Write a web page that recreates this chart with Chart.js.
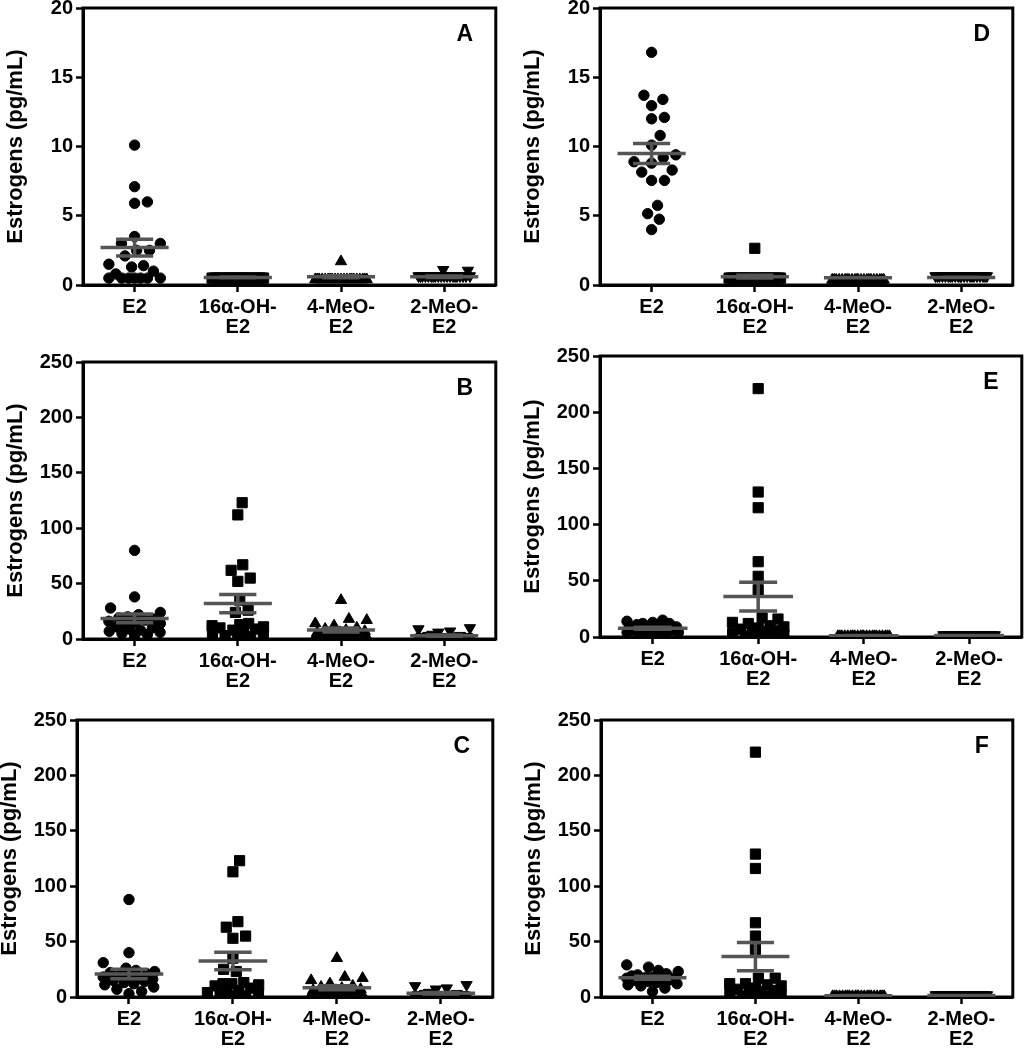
<!DOCTYPE html>
<html>
<head>
<meta charset="utf-8">
<script src="https://cdn.jsdelivr.net/npm/chart.js@4.4.0/dist/chart.umd.min.js"></script>
<style>
  html, body { margin: 0; padding: 0; background: #fff; }
  #wrap { position: relative; width: 1028px; height: 1050px; overflow: hidden; }
  #wrap canvas { position: absolute; }
</style>
</head>
<body>
<div id="wrap"></div>
<script>
// categories and axis text
const categories = ["E2", ["16α-OH-", "E2"], ["4-MeO-", "E2"], ["2-MeO-", "E2"]];
const yTitle = "Estrogens (pg/mL)";

// Panel A (pg/mL)
const aE2 = [10.1, 7.1, 6.0, 5.9, 3.5, 3.0, 3.0, 2.5, 2.5, 2.1, 1.5, 1.4, 1.3, 1.0, 0.8, 0.5, 0.5, 0.5, 0.5, 0.5, 0.5, 0.5];
const aOH = [0.5, 0.5, 0.5, 0.5, 0.5, 0.5, 0.5, 0.5, 0.5, 0.5, 0.5, 0.5, 0.5, 0.5, 0.5, 0.5, 0.5, 0.5, 0.5, 0.5, 0.5, 0.5];
const aMeO4 = [1.7, 0.4, 0.4, 0.4, 0.4, 0.4, 0.4, 0.4, 0.4, 0.4, 0.4, 0.4, 0.4, 0.4, 0.4, 0.4, 0.4, 0.4, 0.4, 0.4, 0.4, 0.4];
const aMeO2 = [1.1, 1.05, 0.65, 0.65, 0.65, 0.65, 0.65, 0.65, 0.65, 0.65, 0.65, 0.65, 0.65, 0.65, 0.65, 0.65, 0.65, 0.65, 0.65, 0.65, 0.65, 0.65];
const aMean = [2.7, 0.55, 0.6, 0.6];
const aSem = [0.6, 0.02, 0.07, 0.05];

// Panel B
const bE2 = [80, 38, 28, 24, 22, 20, 19, 18, 17, 16, 15, 14, 12, 11, 10, 9, 8, 7, 6, 5, 4, 3];
const bOH = [123, 112, 67, 62, 55, 52, 35, 26, 24, 14, 13, 12, 11, 10, 9, 8, 6, 5, 4, 3, 2, 1];
const bMeO4 = [35, 18, 17, 14, 12, 10, 9, 8, 7, 6, 6, 5, 5, 4, 4, 3, 3, 2, 2, 1, 1, 1];
const bMeO2 = [10, 9, 7, 6, 4, 3, 3, 2, 2, 2, 2, 1, 1, 1, 1, 1, 0.5, 0.5, 0.5, 0.5, 0.5, 0.5];
const bMean = [18.6, 32, 8.1, 3];
const bSem = [3.9, 8.2, 1.8, 0.6];

// Panel C
const cE2 = [88, 40, 31, 26, 24, 23, 22, 21, 20, 19, 18, 17, 16, 15, 14, 13, 12, 11, 9, 7, 5, 3];
const cOH = [123, 113, 68, 63, 55, 53, 35, 25, 23, 13, 12, 12, 11, 10, 8, 6, 5, 4, 3, 2, 1, 1];
const cMeO4 = [35, 18, 17, 15, 12, 10, 9, 8, 7, 6, 6, 5, 5, 4, 4, 3, 3, 2, 2, 1, 1, 1];
const cMeO2 = [11, 10, 8, 7, 4, 3, 3, 2, 2, 2, 2, 1, 1, 1, 1, 1, 0.5, 0.5, 0.5, 0.5, 0.5, 0.5];
const cMean = [20.7, 32.5, 8.4, 3.3];
const cSem = [4.3, 8, 1.8, 0.7];

// Panel D
const dE2 = [16.8, 13.7, 13.4, 12.95, 12.1, 12.0, 10.8, 10.1, 9.4, 9.2, 8.9, 8.8, 8.3, 8.15, 7.55, 7.55, 5.75, 5.15, 4.75, 4.0];
const dOH = [2.65, 0.5, 0.5, 0.5, 0.5, 0.5, 0.5, 0.5, 0.5, 0.5, 0.5, 0.5, 0.5, 0.5, 0.5, 0.5, 0.5, 0.5, 0.5, 0.5, 0.5, 0.5];
const dMeO4 = [0.37, 0.37, 0.37, 0.37, 0.37, 0.37, 0.37, 0.37, 0.37, 0.37, 0.37, 0.37, 0.37, 0.37, 0.37, 0.37, 0.37, 0.37, 0.37, 0.37, 0.37, 0.37];
const dMeO2 = [0.65, 0.65, 0.65, 0.65, 0.65, 0.65, 0.65, 0.65, 0.65, 0.65, 0.65, 0.65, 0.65, 0.65, 0.65, 0.65, 0.65, 0.65, 0.65, 0.65, 0.65, 0.65];
const dMean = [9.5, 0.6, 0.53, 0.55];
const dSem = [0.72, 0.1, 0.01, 0.01];

// Panel E
const eE2 = [15, 14, 13, 12, 12, 11, 10, 9, 9, 8, 8, 7, 7, 6, 6, 5, 5, 4, 4, 3, 3, 2];
const eOH = [221, 129, 115, 67, 54, 42, 17, 16, 13, 12, 10, 9, 8, 7, 6, 5, 4, 3, 2, 1, 1, 1];
const eMeO4 = [0.6, 0.6, 0.6, 0.6, 0.6, 0.6, 0.6, 0.6, 0.6, 0.6, 0.6, 0.6, 0.6, 0.6, 0.6, 0.6, 0.6, 0.6, 0.6, 0.6, 0.6, 0.6];
const eMeO2 = [1.8, 1.8, 1.8, 1.8, 1.8, 1.8, 1.8, 1.8, 1.8, 1.8, 1.8, 1.8, 1.8, 1.8, 1.8, 1.8, 1.8, 1.8, 1.8, 1.8, 1.8, 1.8];
const eMean = [7.7, 36, 1.2, 1.3];
const eSem = [0.9, 12.8, 0.05, 0.05];

// Panel F
const fE2 = [29, 27, 24, 23, 21, 20, 19, 18, 18, 17, 17, 16, 16, 15, 15, 14, 13, 12, 11, 10, 8, 5];
const fOH = [221, 129, 116, 67, 55, 43, 17, 17, 12, 12, 11, 10, 8, 7, 6, 5, 4, 3, 2, 1, 1, 1];
const fMeO4 = [0.6, 0.6, 0.6, 0.6, 0.6, 0.6, 0.6, 0.6, 0.6, 0.6, 0.6, 0.6, 0.6, 0.6, 0.6, 0.6, 0.6, 0.6, 0.6, 0.6, 0.6, 0.6];
const fMeO2 = [1.8, 1.8, 1.8, 1.8, 1.8, 1.8, 1.8, 1.8, 1.8, 1.8, 1.8, 1.8, 1.8, 1.8, 1.8, 1.8, 1.8, 1.8, 1.8, 1.8, 1.8, 1.8];
const fMean = [17.4, 36.5, 1.2, 1.3];
const fSem = [1.3, 12.7, 0.05, 0.05];

const panels = [
  { letter: "A", groups: [aE2, aOH, aMeO4, aMeO2], mean: aMean, sem: aSem, yMax: 20, step: 5, box: { l: 83, t: 7, r: 500, b: 285 } },
  { letter: "D", groups: [dE2, dOH, dMeO4, dMeO2], mean: dMean, sem: dSem, yMax: 20, step: 5, box: { l: 600, t: 7, r: 1017, b: 285 } },
  { letter: "B", groups: [bE2, bOH, bMeO4, bMeO2], mean: bMean, sem: bSem, yMax: 250, step: 50, box: { l: 83, t: 361, r: 500, b: 639 } },
  { letter: "E", groups: [eE2, eOH, eMeO4, eMeO2], mean: eMean, sem: eSem, yMax: 250, step: 50, box: { l: 600, t: 355, r: 1026, b: 637 } },
  { letter: "C", groups: [cE2, cOH, cMeO4, cMeO2], mean: cMean, sem: cSem, yMax: 250, step: 50, box: { l: 77, t: 719, r: 497, b: 997 } },
  { letter: "F", groups: [fE2, fOH, fMeO4, fMeO2], mean: fMean, sem: fSem, yMax: 250, step: 50, box: { l: 601, t: 719, r: 1017, b: 997 } },
];

const markers = [
  { style: "circle", radius: 5.2, rotation: 0 },
  { style: "rect", radius: 7.2, rotation: 0 },
  { style: "triangle", radius: 6.5, rotation: 0 },
  { style: "triangle", radius: 6.5, rotation: 180 },
];

const FONT = '"Liberation Sans", Arial, Helvetica, sans-serif';
const Y_AXIS_W = 83;
const X_AXIS_H = 62;
const PAD_TOP = 14;
const PAD_RIGHT = 4;

Chart.defaults.font.family = FONT;
Chart.defaults.color = "#000";

// beeswarm: spread points sideways so they don't overlap, squeeze when crowded
function swarmOffsets(values, pxPerUnit, diam, limit) {
  const order = values.map((v, i) => i).sort((a, b) => values[a] - values[b]);
  const placed = [];
  const out = new Array(values.length).fill(0);
  order.forEach((i) => {
    const y = values[i] * pxPerUnit;
    const near = placed.filter((p) => Math.abs(p.y - y) < diam);
    const cands = [0];
    near.forEach((p) => {
      const dx = Math.sqrt(diam * diam - (p.y - y) ** 2);
      cands.push(p.x + dx, p.x - dx);
    });
    const ok = cands
      .filter((c) => Math.abs(c) <= limit && near.every((p) => (p.x - c) ** 2 + (p.y - y) ** 2 >= diam * diam - 0.5))
      .sort((a, b) => Math.abs(a) - Math.abs(b));
    let x = 0;
    if (ok.length) {
      x = ok[0];
    } else {
      let best = -1;
      for (let c = -limit; c <= limit; c += 1) {
        const d = Math.min(...near.map((p) => Math.hypot(p.x - c, p.y - y)));
        if (d > best + 0.01 || (Math.abs(d - best) <= 0.01 && Math.abs(c) < Math.abs(x))) {
          best = d;
          x = c;
        }
      }
    }
    placed.push({ x, y });
    out[i] = x;
  });
  return out;
}

// mean line, SEM caps and the stem, broken up with gaps
function errorBarData(mean, sem) {
  const pts = [];
  mean.forEach((m, i) => {
    const c = i + 1;
    const s = sem[i];
    pts.push(
      { x: c - 0.33, y: m }, { x: c + 0.33, y: m }, { x: c, y: null },
      { x: c - 0.18, y: m + s }, { x: c + 0.18, y: m + s }, { x: c, y: null },
      { x: c - 0.18, y: m - s }, { x: c + 0.18, y: m - s }, { x: c, y: null },
      { x: c, y: m - s }, { x: c, y: m + s }, { x: c, y: null }
    );
  });
  return pts;
}

const framePlugin = {
  id: "frame",
  beforeDatasetsDraw(chart) {
    const { ctx, chartArea: a } = chart;
    ctx.save();
    ctx.strokeStyle = "#000";
    ctx.lineWidth = 3;
    ctx.strokeRect(a.left, a.top, a.right - a.left, a.bottom - a.top);
    ctx.restore();
  },
  afterDatasetsDraw(chart, args, opts) {
    const { ctx, chartArea: a } = chart;
    ctx.save();
    ctx.font = "bold 23px " + FONT;
    ctx.fillStyle = "#000";
    ctx.textAlign = "center";
    ctx.textBaseline = "middle";
    ctx.fillText(opts.letter, a.right - 31, a.top + 27);
    ctx.restore();
  },
};

const tickGrid = {
  display: true,
  drawOnChartArea: false,
  drawTicks: true,
  tickLength: 7,
  tickWidth: 2.5,
  tickColor: "#000",
};
const axisBorder = { display: true, color: "#000", width: 3 };

const wrap = document.getElementById("wrap");

panels.forEach((p) => {
  const bx = p.box;
  const canvas = document.createElement("canvas");
  const w = bx.r - bx.l + Y_AXIS_W + PAD_RIGHT;
  const h = bx.b - bx.t + PAD_TOP + X_AXIS_H;
  canvas.width = w;
  canvas.height = h;
  canvas.style.left = bx.l - Y_AXIS_W + "px";
  canvas.style.top = bx.t - PAD_TOP + "px";
  canvas.style.width = w + "px";
  canvas.style.height = h + "px";
  wrap.appendChild(canvas);

  const pxPerUnit = (bx.b - bx.t) / p.yMax;
  const catPx = (bx.r - bx.l) / 4;

  const datasets = [
    {
      type: "scatter",
      data: errorBarData(p.mean, p.sem),
      showLine: true,
      spanGaps: false,
      borderColor: "#555555",
      borderWidth: 3.5,
      pointRadius: 0,
      order: 0,
    },
  ];

  p.groups.forEach((vals, gi) => {
    const m = markers[gi];
    const offs = swarmOffsets(vals, pxPerUnit, 13, 26);
    datasets.push({
      type: "scatter",
      data: vals.map((v, k) => ({ x: gi + 1 + offs[k] / catPx, y: v })),
      pointStyle: m.style,
      pointRadius: m.radius,
      rotation: m.rotation,
      backgroundColor: "#000",
      borderColor: "#000",
      borderWidth: 1,
      order: 1,
    });
  });

  new Chart(canvas, {
    type: "scatter",
    data: { datasets },
    plugins: [framePlugin],
    options: {
      responsive: false,
      animation: false,
      devicePixelRatio: 1,
      layout: { padding: { top: PAD_TOP, right: PAD_RIGHT, left: 0, bottom: 0 } },
      plugins: {
        legend: { display: false },
        tooltip: { enabled: false },
        frame: { letter: p.letter },
      },
      scales: {
        x: {
          type: "linear",
          min: 0.5,
          max: 4.5,
          afterBuildTicks: (s) => {
            s.ticks = [1, 2, 3, 4].map((v) => ({ value: v }));
          },
          afterFit: (s) => {
            s.height = X_AXIS_H;
          },
          ticks: {
            callback: (v) => categories[v - 1],
            autoSkip: false,
            maxRotation: 0,
            color: "#000",
            padding: 5,
            font: { size: 20, weight: "bold", lineHeight: 1.0 },
          },
          grid: tickGrid,
          border: axisBorder,
        },
        y: {
          min: 0,
          max: p.yMax,
          afterFit: (s) => {
            s.width = Y_AXIS_W;
          },
          ticks: {
            stepSize: p.step,
            color: "#000",
            padding: 3,
            font: { size: 20, weight: "bold" },
          },
          title: {
            display: true,
            text: yTitle,
            color: "#000",
            padding: { top: 3, bottom: 0 },
            font: { size: 22, weight: "bold" },
          },
          grid: tickGrid,
          border: axisBorder,
        },
      },
    },
  });
});
</script>
</body>
</html>
